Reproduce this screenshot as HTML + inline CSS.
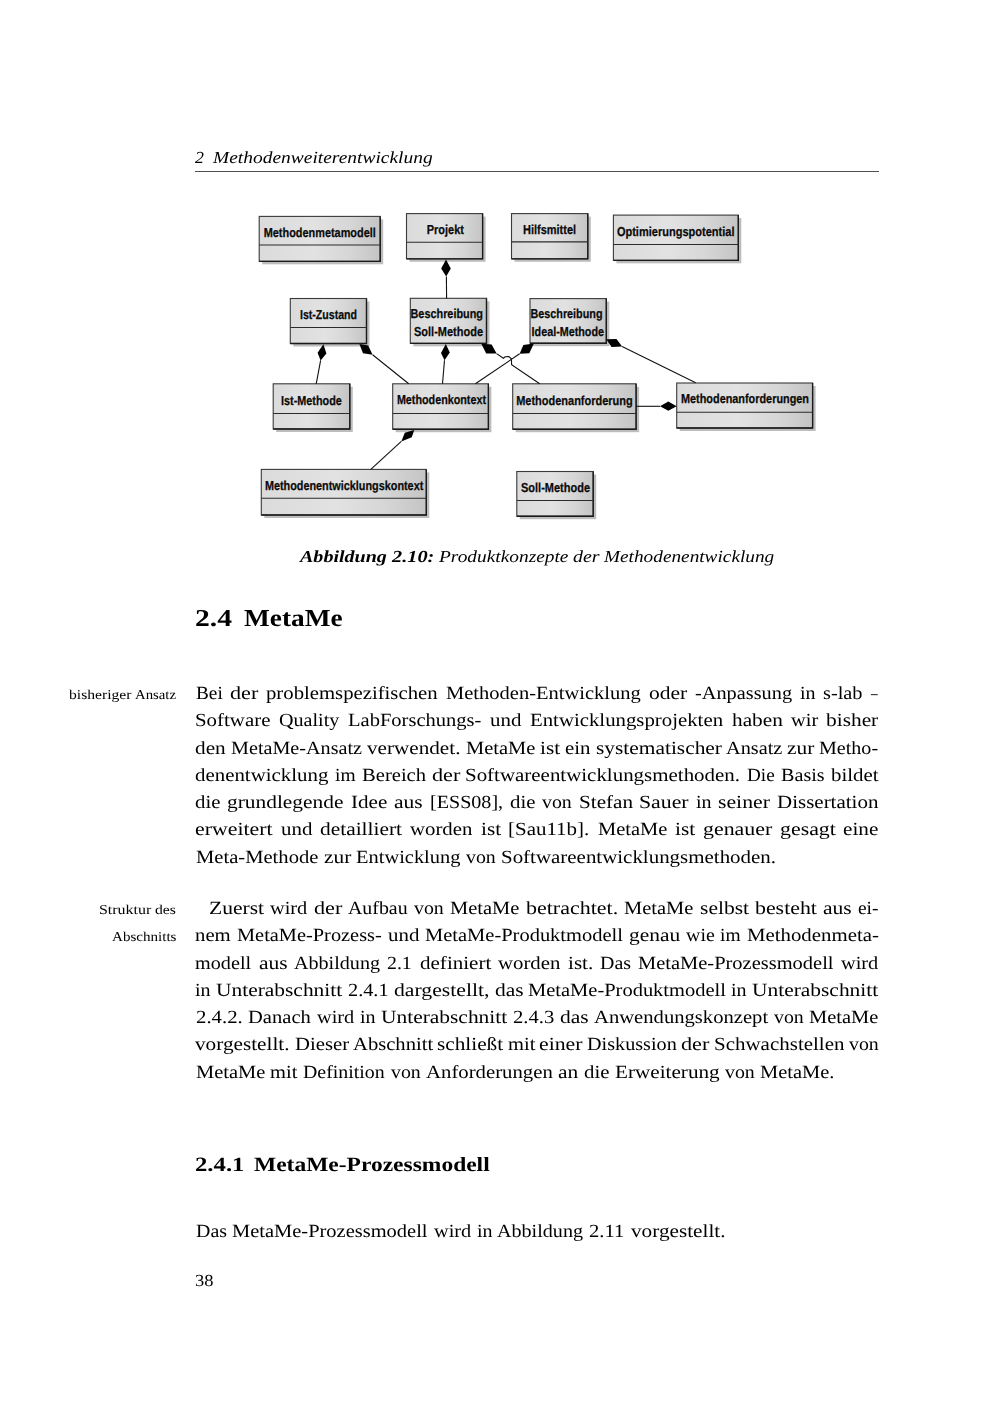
<!DOCTYPE html>
<html lang="de"><head><meta charset="utf-8"><title>2.4 MetaMe</title>
<style>
html,body{margin:0;padding:0;background:#fff}
body{width:1000px;height:1414px;position:relative;overflow:hidden;font-family:"Liberation Serif",serif;color:#000}
.t{position:absolute;white-space:pre;line-height:normal;transform-origin:0 0;text-rendering:geometricPrecision}
.rule{position:absolute;left:195px;top:170.8px;width:683.5px;height:1.3px;background:#505050}
svg{position:absolute;left:0;top:0}
</style></head><body>
<div class="rule"></div>
<svg width="1000" height="560" viewBox="0 0 1000 560">
<defs><linearGradient id="g" x1="0" y1="0" x2="1" y2="0"><stop offset="0" stop-color="#dbdbdb"/><stop offset="0.45" stop-color="#e2e2e2"/><stop offset="0.75" stop-color="#d6d6d6"/><stop offset="1" stop-color="#c4c4c4"/></linearGradient><filter id="bl" x="-5%" y="-5%" width="110%" height="110%"><feGaussianBlur stdDeviation="0.6"/></filter></defs>
<g fill="#bdbdbd" filter="url(#bl)">
<rect x="262.2" y="219.4" width="121.0" height="44.9"/>
<rect x="409.5" y="216.6" width="76.1" height="45.2"/>
<rect x="514.5" y="216.6" width="76.3" height="45.2"/>
<rect x="616.4" y="218.1" width="124.9" height="45.2"/>
<rect x="293.3" y="301.5" width="76.2" height="45.0"/>
<rect x="413.3" y="301.3" width="76.2" height="45.0"/>
<rect x="533.0" y="301.6" width="76.3" height="44.6"/>
<rect x="276.2" y="386.8" width="76.6" height="45.2"/>
<rect x="395.7" y="386.8" width="95.7" height="45.4"/>
<rect x="515.7" y="386.8" width="123.4" height="45.4"/>
<rect x="679.7" y="386.0" width="135.9" height="45.0"/>
<rect x="264.3" y="472.4" width="165.0" height="45.6"/>
<rect x="519.8" y="474.5" width="76.4" height="44.7"/>
</g>
<g fill="url(#g)" stroke="#3a3a3a" stroke-width="1.1">
<rect x="259.2" y="216.4" width="121.0" height="44.9"/>
<rect x="406.5" y="213.6" width="76.1" height="45.2"/>
<rect x="511.5" y="213.6" width="76.3" height="45.2"/>
<rect x="613.4" y="215.1" width="124.9" height="45.2"/>
<rect x="290.3" y="298.5" width="76.2" height="45.0"/>
<rect x="410.3" y="298.3" width="76.2" height="45.0"/>
<rect x="530.0" y="298.6" width="76.3" height="44.6"/>
<rect x="273.2" y="383.8" width="76.6" height="45.2"/>
<rect x="392.7" y="383.8" width="95.7" height="45.4"/>
<rect x="512.7" y="383.8" width="123.4" height="45.4"/>
<rect x="676.7" y="383.0" width="135.9" height="45.0"/>
<rect x="261.3" y="469.4" width="165.0" height="45.6"/>
<rect x="516.8" y="471.5" width="76.4" height="44.7"/>
</g>
<g fill="none" stroke="#1a1a1a" stroke-width="1.35">
<path d="M380.2,216.4 L380.2,261.3 L259.2,261.3"/>
<path d="M482.6,213.6 L482.6,258.8 L406.5,258.8"/>
<path d="M587.8,213.6 L587.8,258.8 L511.5,258.8"/>
<path d="M738.3,215.1 L738.3,260.3 L613.4,260.3"/>
<path d="M366.5,298.5 L366.5,343.5 L290.3,343.5"/>
<path d="M486.5,298.3 L486.5,343.3 L410.3,343.3"/>
<path d="M606.3,298.6 L606.3,343.2 L530.0,343.2"/>
<path d="M349.8,383.8 L349.8,429.0 L273.2,429.0"/>
<path d="M488.4,383.8 L488.4,429.2 L392.7,429.2"/>
<path d="M636.1,383.8 L636.1,429.2 L512.7,429.2"/>
<path d="M812.6,383.0 L812.6,428.0 L676.7,428.0"/>
<path d="M426.3,469.4 L426.3,515.0 L261.3,515.0"/>
<path d="M593.2,471.5 L593.2,516.2 L516.8,516.2"/>
</g>
<g stroke="#2b2b2b" stroke-width="1.1">
<line x1="259.2" y1="245.0" x2="380.2" y2="245.0"/>
<line x1="406.5" y1="242.2" x2="482.6" y2="242.2"/>
<line x1="511.5" y1="241.9" x2="587.8" y2="241.9"/>
<line x1="613.4" y1="244.5" x2="738.3" y2="244.5"/>
<line x1="290.3" y1="327.5" x2="366.5" y2="327.5"/>
<line x1="273.2" y1="413.5" x2="349.8" y2="413.5"/>
<line x1="392.7" y1="413.5" x2="488.4" y2="413.5"/>
<line x1="512.7" y1="413.5" x2="636.1" y2="413.5"/>
<line x1="676.7" y1="412.2" x2="812.6" y2="412.2"/>
<line x1="261.3" y1="498.2" x2="426.3" y2="498.2"/>
<line x1="516.8" y1="500.5" x2="593.2" y2="500.5"/>
</g>
<g fill="none" stroke="#111" stroke-width="1.1">
<path d="M446.4,276.5 L446.6,298.4"/>
<path d="M320.6,360.4 L316.2,383.8"/>
<path d="M372.6,354.8 L408.7,383.8"/>
<path d="M444.5,360.2 L442.5,383.8"/>
<path d="M496.6,353.6 L503.4,358.2 L505.2,356.8 L508.8,356.6 L511.4,358.8 L511.6,364.6 L539.7,383.8"/>
<path d="M519.6,353.8 L475.4,383.8"/>
<path d="M622.1,346.6 L695.7,382.8"/>
<path d="M401.3,441.4 L370.8,469.4"/>
<path d="M636.1,406.3 L660.0,406.3"/>
</g>
<g fill="#000">
<polygon points="446.0,259.6 441.2,268.4 446.2,276.6 450.8,268.4"/>
<polygon points="323.4,344.2 317.6,352.8 320.6,360.4 326.4,353.6"/>
<polygon points="359.4,344.0 368.2,345.4 372.6,354.8 363.0,353.2"/>
<polygon points="445.8,344.0 441.0,353.0 444.5,360.2 449.8,352.5"/>
<polygon points="481.3,343.8 491.6,344.6 496.6,353.6 486.2,353.6"/>
<polygon points="533.9,343.6 523.4,345.0 519.6,353.8 529.3,353.2"/>
<polygon points="606.2,339.3 616.5,339.1 622.1,346.6 611.6,347.1"/>
<polygon points="414.2,430.0 404.8,432.7 401.3,441.4 411.8,437.2"/>
<polygon points="660.0,406.3 668.3,401.6 676.6,406.3 668.3,410.8"/>
</g>
<g font-family="Liberation Sans, sans-serif" font-weight="bold" font-size="13" fill="#0a0a0a" stroke="#0a0a0a" stroke-width="0.25" text-rendering="geometricPrecision">
<text x="263.7" y="236.7" textLength="112.1" lengthAdjust="spacingAndGlyphs">Methodenmetamodell</text>
<text x="426.8" y="234.3" textLength="37.1" lengthAdjust="spacingAndGlyphs">Projekt</text>
<text x="523.0" y="234.3" textLength="53.1" lengthAdjust="spacingAndGlyphs">Hilfsmittel</text>
<text x="616.9" y="235.8" textLength="117.6" lengthAdjust="spacingAndGlyphs">Optimierungspotential</text>
<text x="300.0" y="319.0" textLength="57.0" lengthAdjust="spacingAndGlyphs">Ist-Zustand</text>
<text x="410.5" y="318.2" textLength="72.5" lengthAdjust="spacingAndGlyphs">Beschreibung</text>
<text x="414.0" y="336.0" textLength="69.0" lengthAdjust="spacingAndGlyphs">Soll-Methode</text>
<text x="530.5" y="318.4" textLength="72.0" lengthAdjust="spacingAndGlyphs">Beschreibung</text>
<text x="531.6" y="336.0" textLength="72.4" lengthAdjust="spacingAndGlyphs">Ideal-Methode</text>
<text x="281.0" y="404.5" textLength="60.8" lengthAdjust="spacingAndGlyphs">Ist-Methode</text>
<text x="396.9" y="404.3" textLength="89.1" lengthAdjust="spacingAndGlyphs">Methodenkontext</text>
<text x="516.2" y="404.8" textLength="116.5" lengthAdjust="spacingAndGlyphs">Methodenanforderung</text>
<text x="681.0" y="403.2" textLength="128.0" lengthAdjust="spacingAndGlyphs">Methodenanforderungen</text>
<text x="264.9" y="489.6" textLength="158.4" lengthAdjust="spacingAndGlyphs">Methodenentwicklungskontext</text>
<text x="521.0" y="491.8" textLength="69.0" lengthAdjust="spacingAndGlyphs">Soll-Methode</text>
</g>
</svg>
<span class="t" style="left:195.14px;top:148.00px;font-size:16.88px;font-style:italic;transform:scaleX(1.0569)">2</span>
<span class="t" style="left:212.99px;top:148.00px;font-size:16.93px;font-style:italic;transform:scaleX(1.1494)">Methodenweiterentwicklung</span>
<span class="t" style="left:300.27px;top:547.00px;font-size:16.88px;font-weight:bold;font-style:italic;transform:scaleX(1.1885)">Abbildung</span>
<span class="t" style="left:392.15px;top:547.00px;font-size:16.88px;font-weight:bold;font-style:italic;transform:scaleX(1.2063)">2.10:</span>
<span class="t" style="left:438.68px;top:547.00px;font-size:16.88px;font-style:italic;transform:scaleX(1.1491)">Produktkonzepte</span>
<span class="t" style="left:573.00px;top:547.00px;font-size:16.88px;font-style:italic;transform:scaleX(1.1840)">der</span>
<span class="t" style="left:603.72px;top:547.00px;font-size:16.88px;font-style:italic;transform:scaleX(1.1433)">Methodenentwicklung</span>
<span class="t" style="left:195.20px;top:605.00px;font-size:24.30px;font-weight:bold;transform:scaleX(1.2201)">2.4</span>
<span class="t" style="left:243.95px;top:605.00px;font-size:24.30px;font-weight:bold;transform:scaleX(1.1242)">MetaMe</span>
<span class="t" style="left:69.37px;top:687.00px;font-size:13.50px;transform:scaleX(1.1560)">bisheriger</span>
<span class="t" style="left:135.24px;top:687.00px;font-size:13.50px;transform:scaleX(1.0946)">Ansatz</span>
<span class="t" style="left:99.42px;top:902.00px;font-size:13.50px;transform:scaleX(1.1809)">Struktur</span>
<span class="t" style="left:155.38px;top:902.00px;font-size:13.50px;transform:scaleX(1.1596)">des</span>
<span class="t" style="left:111.76px;top:929.00px;font-size:13.50px;transform:scaleX(1.1162)">Abschnitts</span>
<span class="t" style="left:195.66px;top:683.00px;font-size:18.55px;transform:scaleX(1.0393)">Bei</span>
<span class="t" style="left:230.13px;top:683.00px;font-size:18.55px;transform:scaleX(1.1976)">der</span>
<span class="t" style="left:266.10px;top:683.00px;font-size:18.55px;transform:scaleX(1.1189)">problemspezifischen</span>
<span class="t" style="left:445.96px;top:683.00px;font-size:18.55px;transform:scaleX(1.1066)">Methoden-Entwicklung</span>
<span class="t" style="left:648.77px;top:683.00px;font-size:18.55px;transform:scaleX(1.1625)">oder</span>
<span class="t" style="left:694.53px;top:683.00px;font-size:18.55px;transform:scaleX(1.0961)">-Anpassung</span>
<span class="t" style="left:799.62px;top:683.00px;font-size:18.55px;transform:scaleX(1.0798)">in</span>
<span class="t" style="left:823.08px;top:683.00px;font-size:18.55px;transform:scaleX(1.0971)">s-lab</span>
<span class="t" style="left:871.17px;top:683.00px;font-size:18.55px;transform:scaleX(0.7134)">–</span>
<span class="t" style="left:195.28px;top:710.00px;font-size:18.55px;transform:scaleX(1.1271)">Software</span>
<span class="t" style="left:279.04px;top:710.00px;font-size:18.55px;transform:scaleX(1.0853)">Quality</span>
<span class="t" style="left:347.82px;top:710.00px;font-size:18.55px;transform:scaleX(1.1077)">LabForschungs-</span>
<span class="t" style="left:489.65px;top:710.00px;font-size:18.55px;transform:scaleX(1.1286)">und</span>
<span class="t" style="left:529.67px;top:710.00px;font-size:18.55px;transform:scaleX(1.1230)">Entwicklungsprojekten</span>
<span class="t" style="left:731.57px;top:710.00px;font-size:18.55px;transform:scaleX(1.1491)">haben</span>
<span class="t" style="left:790.93px;top:710.00px;font-size:18.55px;transform:scaleX(1.1001)">wir</span>
<span class="t" style="left:826.47px;top:710.00px;font-size:18.55px;transform:scaleX(1.1535)">bisher</span>
<span class="t" style="left:195.36px;top:738.00px;font-size:18.55px;transform:scaleX(1.1477)">den</span>
<span class="t" style="left:231.23px;top:738.00px;font-size:18.55px;transform:scaleX(1.0881)">MetaMe-Ansatz</span>
<span class="t" style="left:367.16px;top:738.00px;font-size:18.55px;transform:scaleX(1.1422)">verwendet.</span>
<span class="t" style="left:465.88px;top:738.00px;font-size:18.55px;transform:scaleX(1.1043)">MetaMe</span>
<span class="t" style="left:540.28px;top:738.00px;font-size:18.55px;transform:scaleX(1.1536)">ist</span>
<span class="t" style="left:565.24px;top:738.00px;font-size:18.55px;transform:scaleX(1.1255)">ein</span>
<span class="t" style="left:595.66px;top:738.00px;font-size:18.55px;transform:scaleX(1.1549)">systematischer</span>
<span class="t" style="left:726.06px;top:738.00px;font-size:18.55px;transform:scaleX(1.0948)">Ansatz</span>
<span class="t" style="left:787.36px;top:738.00px;font-size:18.55px;transform:scaleX(1.1518)">zur</span>
<span class="t" style="left:819.43px;top:738.00px;font-size:18.55px;transform:scaleX(1.0831)">Metho-</span>
<span class="t" style="left:195.38px;top:765.00px;font-size:18.55px;transform:scaleX(1.1264)">denentwicklung</span>
<span class="t" style="left:334.85px;top:765.00px;font-size:18.55px;transform:scaleX(1.0507)">im</span>
<span class="t" style="left:361.58px;top:765.00px;font-size:18.55px;transform:scaleX(1.1120)">Bereich</span>
<span class="t" style="left:431.64px;top:765.00px;font-size:18.55px;transform:scaleX(1.1976)">der</span>
<span class="t" style="left:465.46px;top:765.00px;font-size:18.55px;transform:scaleX(1.1299)">Softwareentwicklungsmethoden.</span>
<span class="t" style="left:747.12px;top:765.00px;font-size:18.55px;transform:scaleX(1.0359)">Die</span>
<span class="t" style="left:781.02px;top:765.00px;font-size:18.55px;transform:scaleX(1.0871)">Basis</span>
<span class="t" style="left:830.99px;top:765.00px;font-size:18.55px;transform:scaleX(1.1261)">bildet</span>
<span class="t" style="left:195.38px;top:792.00px;font-size:18.55px;transform:scaleX(1.1216)">die</span>
<span class="t" style="left:227.48px;top:792.00px;font-size:18.55px;transform:scaleX(1.1542)">grundlegende</span>
<span class="t" style="left:350.95px;top:792.00px;font-size:18.55px;transform:scaleX(1.1390)">Idee</span>
<span class="t" style="left:394.14px;top:792.00px;font-size:18.55px;transform:scaleX(1.1638)">aus</span>
<span class="t" style="left:429.57px;top:792.00px;font-size:18.55px;transform:scaleX(1.0843)">[ESS08],</span>
<span class="t" style="left:509.86px;top:792.00px;font-size:18.55px;transform:scaleX(1.1216)">die</span>
<span class="t" style="left:541.98px;top:792.00px;font-size:18.55px;transform:scaleX(1.0704)">von</span>
<span class="t" style="left:578.54px;top:792.00px;font-size:18.55px;transform:scaleX(1.1425)">Stefan</span>
<span class="t" style="left:639.42px;top:792.00px;font-size:18.55px;transform:scaleX(1.1762)">Sauer</span>
<span class="t" style="left:695.74px;top:792.00px;font-size:18.55px;transform:scaleX(1.0798)">in</span>
<span class="t" style="left:718.16px;top:792.00px;font-size:18.55px;transform:scaleX(1.1724)">seiner</span>
<span class="t" style="left:776.88px;top:792.00px;font-size:18.55px;transform:scaleX(1.1325)">Dissertation</span>
<span class="t" style="left:195.27px;top:819.00px;font-size:18.55px;transform:scaleX(1.1790)">erweitert</span>
<span class="t" style="left:280.84px;top:819.00px;font-size:18.55px;transform:scaleX(1.1286)">und</span>
<span class="t" style="left:320.18px;top:819.00px;font-size:18.55px;transform:scaleX(1.1549)">detailliert</span>
<span class="t" style="left:410.20px;top:819.00px;font-size:18.55px;transform:scaleX(1.1231)">worden</span>
<span class="t" style="left:480.62px;top:819.00px;font-size:18.55px;transform:scaleX(1.1536)">ist</span>
<span class="t" style="left:508.35px;top:819.00px;font-size:18.55px;transform:scaleX(1.1308)">[Sau11b].</span>
<span class="t" style="left:597.81px;top:819.00px;font-size:18.55px;transform:scaleX(1.1043)">MetaMe</span>
<span class="t" style="left:675.13px;top:819.00px;font-size:18.55px;transform:scaleX(1.1536)">ist</span>
<span class="t" style="left:702.90px;top:819.00px;font-size:18.55px;transform:scaleX(1.1810)">genauer</span>
<span class="t" style="left:779.61px;top:819.00px;font-size:18.55px;transform:scaleX(1.1796)">gesagt</span>
<span class="t" style="left:843.16px;top:819.00px;font-size:18.55px;transform:scaleX(1.1434)">eine</span>
<span class="t" style="left:195.54px;top:847.00px;font-size:18.55px;transform:scaleX(1.1111)">Meta-Methode</span>
<span class="t" style="left:323.53px;top:847.00px;font-size:18.55px;transform:scaleX(1.1518)">zur</span>
<span class="t" style="left:356.20px;top:847.00px;font-size:18.55px;transform:scaleX(1.1030)">Entwicklung</span>
<span class="t" style="left:466.10px;top:847.00px;font-size:18.55px;transform:scaleX(1.0704)">von</span>
<span class="t" style="left:501.26px;top:847.00px;font-size:18.55px;transform:scaleX(1.1299)">Softwareentwicklungsmethoden.</span>
<span class="t" style="left:208.92px;top:898.00px;font-size:18.55px;transform:scaleX(1.1628)">Zuerst</span>
<span class="t" style="left:270.25px;top:898.00px;font-size:18.55px;transform:scaleX(1.0976)">wird</span>
<span class="t" style="left:313.81px;top:898.00px;font-size:18.55px;transform:scaleX(1.1976)">der</span>
<span class="t" style="left:347.64px;top:898.00px;font-size:18.55px;transform:scaleX(1.0721)">Aufbau</span>
<span class="t" style="left:413.50px;top:898.00px;font-size:18.55px;transform:scaleX(1.0704)">von</span>
<span class="t" style="left:449.63px;top:898.00px;font-size:18.55px;transform:scaleX(1.1043)">MetaMe</span>
<span class="t" style="left:525.57px;top:898.00px;font-size:18.55px;transform:scaleX(1.1859)">betrachtet.</span>
<span class="t" style="left:624.12px;top:898.00px;font-size:18.55px;transform:scaleX(1.1043)">MetaMe</span>
<span class="t" style="left:699.64px;top:898.00px;font-size:18.55px;transform:scaleX(1.1622)">selbst</span>
<span class="t" style="left:755.18px;top:898.00px;font-size:18.55px;transform:scaleX(1.1791)">besteht</span>
<span class="t" style="left:823.18px;top:898.00px;font-size:18.55px;transform:scaleX(1.1638)">aus</span>
<span class="t" style="left:858.05px;top:898.00px;font-size:18.55px;transform:scaleX(1.0484)">ei-</span>
<span class="t" style="left:195.41px;top:925.00px;font-size:18.55px;transform:scaleX(1.1203)">nem</span>
<span class="t" style="left:237.00px;top:925.00px;font-size:18.55px;transform:scaleX(1.0991)">MetaMe-Prozess-</span>
<span class="t" style="left:387.58px;top:925.00px;font-size:18.55px;transform:scaleX(1.1286)">und</span>
<span class="t" style="left:424.88px;top:925.00px;font-size:18.55px;transform:scaleX(1.1051)">MetaMe-Produktmodell</span>
<span class="t" style="left:628.53px;top:925.00px;font-size:18.55px;transform:scaleX(1.1563)">genau</span>
<span class="t" style="left:685.69px;top:925.00px;font-size:18.55px;transform:scaleX(1.0742)">wie</span>
<span class="t" style="left:720.19px;top:925.00px;font-size:18.55px;transform:scaleX(1.0507)">im</span>
<span class="t" style="left:746.58px;top:925.00px;font-size:18.55px;transform:scaleX(1.1238)">Methodenmeta-</span>
<span class="t" style="left:195.47px;top:953.00px;font-size:18.55px;transform:scaleX(1.0901)">modell</span>
<span class="t" style="left:258.52px;top:953.00px;font-size:18.55px;transform:scaleX(1.1638)">aus</span>
<span class="t" style="left:293.76px;top:953.00px;font-size:18.55px;transform:scaleX(1.0849)">Abbildung</span>
<span class="t" style="left:386.97px;top:953.00px;font-size:18.55px;transform:scaleX(1.0695)">2.1</span>
<span class="t" style="left:419.70px;top:953.00px;font-size:18.55px;transform:scaleX(1.1362)">definiert</span>
<span class="t" style="left:498.09px;top:953.00px;font-size:18.55px;transform:scaleX(1.1231)">worden</span>
<span class="t" style="left:567.56px;top:953.00px;font-size:18.55px;transform:scaleX(1.1419)">ist.</span>
<span class="t" style="left:600.05px;top:953.00px;font-size:18.55px;transform:scaleX(1.0766)">Das</span>
<span class="t" style="left:638.17px;top:953.00px;font-size:18.55px;transform:scaleX(1.1043)">MetaMe-Prozessmodell</span>
<span class="t" style="left:841.01px;top:953.00px;font-size:18.55px;transform:scaleX(1.0976)">wird</span>
<span class="t" style="left:195.47px;top:980.00px;font-size:18.55px;transform:scaleX(1.0798)">in</span>
<span class="t" style="left:216.20px;top:980.00px;font-size:18.55px;transform:scaleX(1.1566)">Unterabschnitt</span>
<span class="t" style="left:347.52px;top:980.00px;font-size:18.55px;transform:scaleX(1.0937)">2.4.1</span>
<span class="t" style="left:393.98px;top:980.00px;font-size:18.55px;transform:scaleX(1.1720)">dargestellt,</span>
<span class="t" style="left:494.57px;top:980.00px;font-size:18.55px;transform:scaleX(1.1623)">das</span>
<span class="t" style="left:528.31px;top:980.00px;font-size:18.55px;transform:scaleX(1.1051)">MetaMe-Produktmodell</span>
<span class="t" style="left:731.47px;top:980.00px;font-size:18.55px;transform:scaleX(1.0798)">in</span>
<span class="t" style="left:752.21px;top:980.00px;font-size:18.55px;transform:scaleX(1.1566)">Unterabschnitt</span>
<span class="t" style="left:195.52px;top:1007.00px;font-size:18.55px;transform:scaleX(1.1213)">2.4.2.</span>
<span class="t" style="left:248.14px;top:1007.00px;font-size:18.55px;transform:scaleX(1.1098)">Danach</span>
<span class="t" style="left:316.76px;top:1007.00px;font-size:18.55px;transform:scaleX(1.0976)">wird</span>
<span class="t" style="left:359.80px;top:1007.00px;font-size:18.55px;transform:scaleX(1.0798)">in</span>
<span class="t" style="left:381.15px;top:1007.00px;font-size:18.55px;transform:scaleX(1.1566)">Unterabschnitt</span>
<span class="t" style="left:513.05px;top:1007.00px;font-size:18.55px;transform:scaleX(1.1135)">2.4.3</span>
<span class="t" style="left:560.15px;top:1007.00px;font-size:18.55px;transform:scaleX(1.1623)">das</span>
<span class="t" style="left:593.95px;top:1007.00px;font-size:18.55px;transform:scaleX(1.1130)">Anwendungskonzept</span>
<span class="t" style="left:773.59px;top:1007.00px;font-size:18.55px;transform:scaleX(1.0704)">von</span>
<span class="t" style="left:809.06px;top:1007.00px;font-size:18.55px;transform:scaleX(1.1043)">MetaMe</span>
<span class="t" style="left:195.24px;top:1034.00px;font-size:18.55px;transform:scaleX(1.1454)">vorgestellt.</span>
<span class="t" style="left:294.57px;top:1034.00px;font-size:18.55px;transform:scaleX(1.1202)">Dieser</span>
<span class="t" style="left:352.53px;top:1034.00px;font-size:18.55px;transform:scaleX(1.1121)">Abschnitt</span>
<span class="t" style="left:437.05px;top:1034.00px;font-size:18.55px;transform:scaleX(1.1477)">schließt</span>
<span class="t" style="left:507.66px;top:1034.00px;font-size:18.55px;transform:scaleX(1.1063)">mit</span>
<span class="t" style="left:539.22px;top:1034.00px;font-size:18.55px;transform:scaleX(1.1739)">einer</span>
<span class="t" style="left:587.09px;top:1034.00px;font-size:18.55px;transform:scaleX(1.0896)">Diskussion</span>
<span class="t" style="left:681.35px;top:1034.00px;font-size:18.55px;transform:scaleX(1.1976)">der</span>
<span class="t" style="left:713.70px;top:1034.00px;font-size:18.55px;transform:scaleX(1.1322)">Schwachstellen</span>
<span class="t" style="left:848.66px;top:1034.00px;font-size:18.55px;transform:scaleX(1.0704)">von</span>
<span class="t" style="left:195.55px;top:1062.00px;font-size:18.55px;transform:scaleX(1.1043)">MetaMe</span>
<span class="t" style="left:270.49px;top:1062.00px;font-size:18.55px;transform:scaleX(1.1063)">mit</span>
<span class="t" style="left:303.47px;top:1062.00px;font-size:18.55px;transform:scaleX(1.0734)">Definition</span>
<span class="t" style="left:390.69px;top:1062.00px;font-size:18.55px;transform:scaleX(1.0704)">von</span>
<span class="t" style="left:425.57px;top:1062.00px;font-size:18.55px;transform:scaleX(1.1206)">Anforderungen</span>
<span class="t" style="left:558.09px;top:1062.00px;font-size:18.55px;transform:scaleX(1.1566)">an</span>
<span class="t" style="left:583.80px;top:1062.00px;font-size:18.55px;transform:scaleX(1.1216)">die</span>
<span class="t" style="left:614.87px;top:1062.00px;font-size:18.55px;transform:scaleX(1.1424)">Erweiterung</span>
<span class="t" style="left:724.95px;top:1062.00px;font-size:18.55px;transform:scaleX(1.0704)">von</span>
<span class="t" style="left:760.38px;top:1062.00px;font-size:18.55px;transform:scaleX(1.1046)">MetaMe.</span>
<span class="t" style="left:195.37px;top:1154.00px;font-size:20.25px;font-weight:bold;transform:scaleX(1.2207)">2.4.1</span>
<span class="t" style="left:254.35px;top:1154.00px;font-size:20.25px;font-weight:bold;transform:scaleX(1.1600)">MetaMe-Prozessmodell</span>
<span class="t" style="left:195.64px;top:1221.00px;font-size:18.55px;transform:scaleX(1.0766)">Das</span>
<span class="t" style="left:232.32px;top:1221.00px;font-size:18.55px;transform:scaleX(1.1043)">MetaMe-Prozessmodell</span>
<span class="t" style="left:433.72px;top:1221.00px;font-size:18.55px;transform:scaleX(1.0976)">wird</span>
<span class="t" style="left:476.73px;top:1221.00px;font-size:18.55px;transform:scaleX(1.0798)">in</span>
<span class="t" style="left:497.41px;top:1221.00px;font-size:18.55px;transform:scaleX(1.0849)">Abbildung</span>
<span class="t" style="left:589.15px;top:1221.00px;font-size:18.55px;transform:scaleX(1.1130)">2.11</span>
<span class="t" style="left:630.85px;top:1221.00px;font-size:18.55px;transform:scaleX(1.1454)">vorgestellt.</span>
<span class="t" style="left:195.26px;top:1271.00px;font-size:16.88px;transform:scaleX(1.0972)">38</span>
</body></html>
